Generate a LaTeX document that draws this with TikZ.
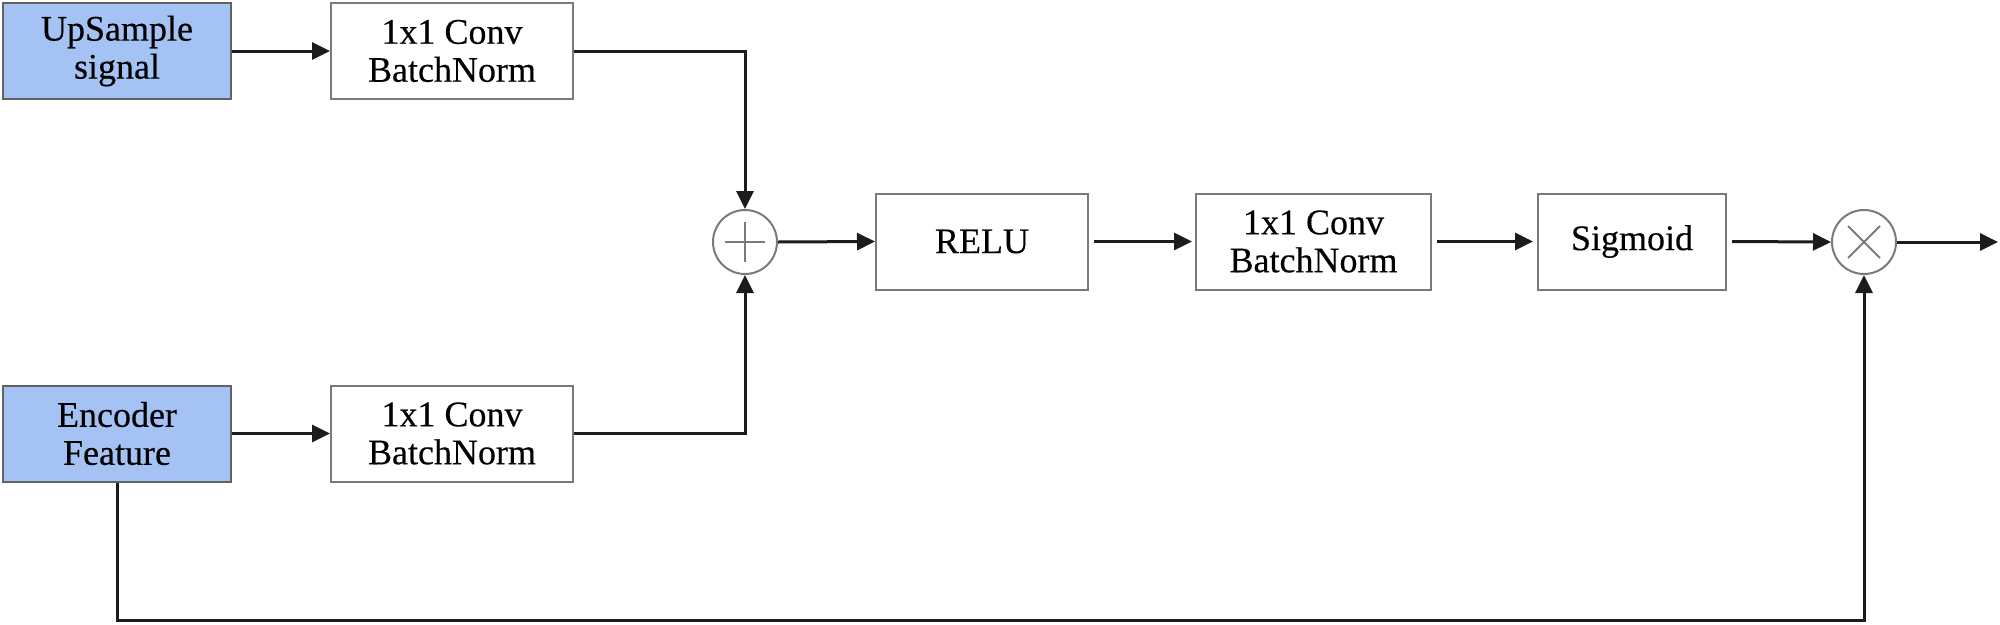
\documentclass[tikz,border=0pt]{standalone}
\usepackage{fontspec}
\setmainfont{Liberation Serif}
\newfontfamily\labelfont{Liberation Serif}[FakeBold=0.3]
\usetikzlibrary{arrows.meta}
\definecolor{inblue}{HTML}{A4C2F4}
\definecolor{boxgray}{HTML}{7A7A7A}
\definecolor{linedark}{HTML}{1C1C1C}
\tikzset{
  blockbox/.style={draw=boxgray, line width=2pt, fill=white, rectangle, inner sep=0pt,
    minimum height=96pt, align=center, font=\labelfont\fontsize{36}{38}\selectfont},
  inbox/.style={blockbox, fill=inblue, draw=boxgray!80!black},
  opcirc/.style={draw=boxgray, line width=2pt, circle, minimum size=64pt, inner sep=0pt},
  conn/.style={draw=linedark, line width=3pt},
  arr/.style={conn, -{Triangle[length=18pt,width=17pt]}},
  sym/.style={draw=boxgray, line width=2pt}
}
\begin{document}
\begin{tikzpicture}[x=1pt,y=-1pt]
\useasboundingbox (0,0) rectangle (2000,624);
\node[inbox, minimum width=228pt] (up) at (117,51) {UpSample\\signal};
\node[blockbox, minimum width=242pt] (c1) at (452,51) {1x1 Conv\\BatchNorm};
\node[inbox, minimum width=228pt] (enc) at (117,433.5) {Encoder\\Feature};
\node[blockbox, minimum width=242pt] (c3) at (452,433.5) {1x1 Conv\\BatchNorm};
\node[opcirc] (plus) at (745,242) {};
\node[blockbox, minimum width=212pt] (relu) at (982,241.5) {RELU};
\node[blockbox, minimum width=235pt] (c2) at (1313.5,241.5) {1x1 Conv\\BatchNorm};
\node[blockbox, minimum width=188pt] (sig) at (1632,241.5) {Sigmoid};
\node[opcirc] (times) at (1864,242) {};
\coordinate (out) at (1998,242);
\coordinate (bl) at (117,620);
% symbols
\draw[sym] (plus.center) +(-20,0) -- +(20,0);
\draw[sym] (plus.center) +(0,-20) -- +(0,20);
\draw[sym] (times.center) +(-16,-16) -- +(16,16);
\draw[sym] (times.center) +(-16,16) -- +(16,-16);
% connectors
\draw[arr] (up.east) -- (c1.west);
\draw[arr] (enc.east) -- (c3.west);
\draw[arr] (c1.east) -| (plus.north);
\draw[arr] (c3.east) -| (plus.south);
\draw[arr] (plus.east) -- (relu.west);
\draw[arr, shorten <=5pt, shorten >=3pt] (relu.east) -- (c2.west);
\draw[arr, shorten <=5pt, shorten >=4pt] (c2.east) -- (sig.west);
\draw[arr, shorten <=5pt] (sig.east) -- (times.west);
\draw[arr] (times.east) -- (out);
\draw[arr] (enc.south) -- (bl) -| (times.south);
\end{tikzpicture}
\end{document}
